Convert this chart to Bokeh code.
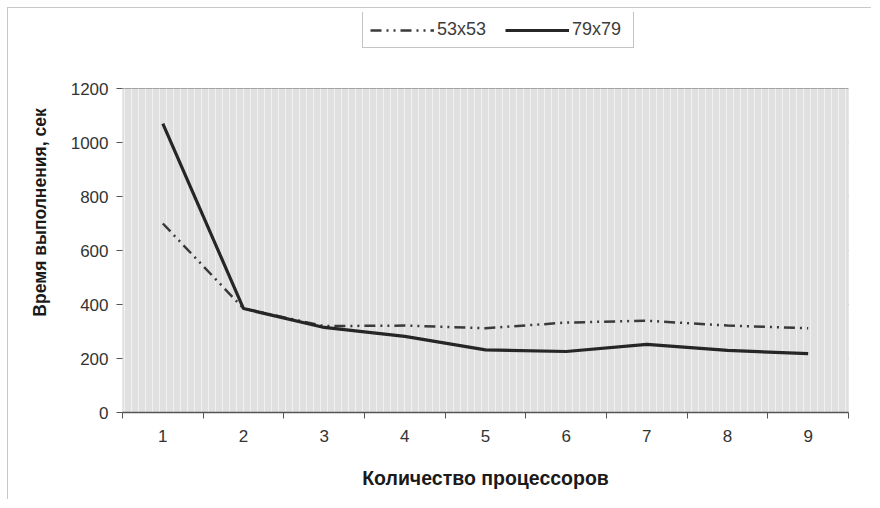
from bokeh.plotting import figure
from bokeh.models import FixedTicker, Legend, LegendItem, BoxAnnotation
from bokeh.embed import file_html
from bokeh.resources import INLINE

processors = [1, 2, 3, 4, 5, 6, 7, 8, 9]
tick_labels = ["1", "2", "3", "4", "5", "6", "7", "8", "9"]
series_53 = [700, 385, 320, 322, 312, 333, 340, 322, 312]
series_79 = [1070, 385, 315, 282, 232, 226, 252, 230, 218]
y_ticks = [0, 200, 400, 600, 800, 1000, 1200]
y_max = 1200

FONT = "Liberation Sans"

# frame extends above the 0..1200 plot area so the legend can sit at the top
top_extra = y_max * 400 / 324

p = figure(width=864, height=492, output_backend="svg", toolbar_location=None,
           x_range=(0.5, 9.5), y_range=(0, top_extra),
           min_border_left=114, min_border_right=24, min_border_top=4, min_border_bottom=88)
p.styles = {"margin-left": "7px", "margin-top": "7px",
            "border-left": "1px solid #c8c8c8", "border-top": "1px solid #c8c8c8"}

p.background_fill_color = "white"
p.border_fill_color = "white"
p.outline_line_color = None

plot_area = BoxAnnotation(bottom=0, top=y_max, fill_color="#e0e0e0", fill_alpha=1,
                          line_color="#8a8a8a", line_width=1, level="underlay",
                          hatch_pattern="vertical_line", hatch_color="white",
                          hatch_alpha=0.55, hatch_scale=7, hatch_weight=1)
p.add_layout(plot_area)

l53 = p.line(processors, series_53, line_color="#3a3a3a", line_width=2.5,
             line_dash="11 5 2 5 2 5")
l79 = p.line(processors, series_79, line_color="#262626", line_width=3.2)

# x axis
p.xaxis.ticker = FixedTicker(ticks=processors, minor_ticks=[x + 0.5 for x in range(0, 10)])
p.xaxis.major_label_overrides = {i: t for i, t in zip(processors, tick_labels)}
p.xaxis.major_tick_out = 0
p.xaxis.major_tick_in = 0
p.xaxis.minor_tick_out = 6
p.xaxis.minor_tick_in = 0
p.xaxis.minor_tick_line_color = "#555555"
p.xaxis.axis_line_color = "#555555"
p.xaxis.axis_line_width = 1.5
p.xaxis.axis_label = "Количество процессоров"
p.xaxis.axis_label_standoff = 22
p.xgrid.visible = False

# y axis
p.yaxis.ticker = FixedTicker(ticks=y_ticks)
p.yaxis.minor_tick_line_color = None
p.yaxis.major_tick_out = 6
p.yaxis.major_tick_in = 0
p.yaxis.major_tick_line_color = "#555555"
p.yaxis.axis_line_color = None
p.yaxis.axis_label = "Время выполнения, сек"
p.yaxis.axis_label_standoff = 18
p.ygrid.grid_line_color = "#7c7c7c"
p.ygrid.grid_line_width = 1

for ax in (p.xaxis, p.yaxis):
    ax.major_label_text_font = FONT
    ax.major_label_text_font_size = "17px"
    ax.major_label_text_color = "#333333"
    ax.axis_label_text_font = FONT
    ax.axis_label_text_font_style = "bold"
    ax.axis_label_text_color = "#1a1a1a"
p.xaxis.axis_label_text_font_size = "19.5px"
p.yaxis.axis_label_text_font_size = "17.5px"
p.xaxis.major_label_standoff = 11
p.yaxis.major_label_standoff = 8

legend = Legend(items=[LegendItem(label="53x53", renderers=[l53]),
                       LegendItem(label="79x79", renderers=[l79])],
                orientation="horizontal", location=(240, 364),
                label_text_font=FONT, label_text_font_size="18px", label_text_color="#3c3c3c",
                glyph_width=64, glyph_height=20, label_width=54, spacing=14, padding=7, margin=0,
                border_line_color="#8a8a8a", background_fill_color="white",
                label_standoff=3)
p.add_layout(legend, "center")

open("out.html", "w").write(file_html(p, INLINE))
